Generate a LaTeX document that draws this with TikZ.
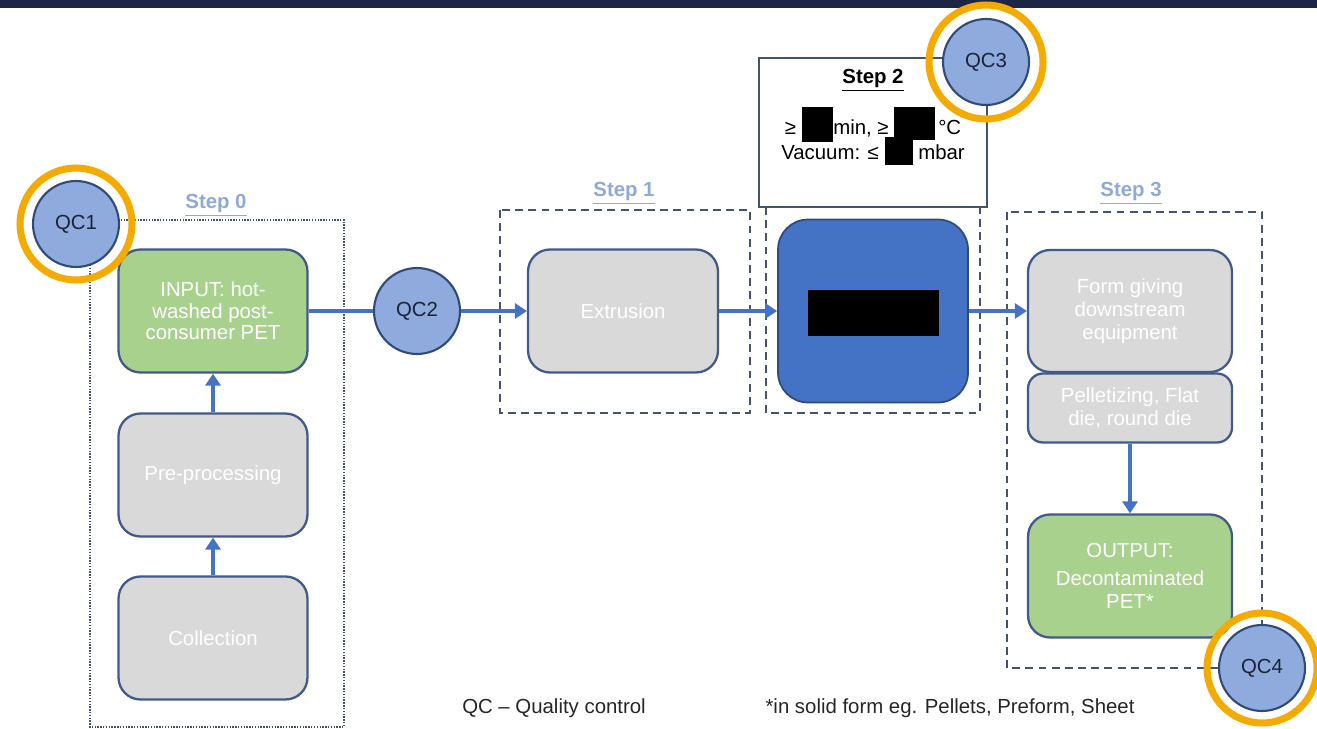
\documentclass[tikz,border=0pt]{standalone}
\usepackage{fontspec}
\setmainfont{Liberation Sans}
\usetikzlibrary{arrows.meta}

\definecolor{bandnavy}{HTML}{1D2547}
\definecolor{flowblue}{HTML}{4472C4}
\definecolor{qcfill}{HTML}{8FAADC}
\definecolor{qcedge}{HTML}{2F4B7C}
\definecolor{qctext}{HTML}{1A2336}
\definecolor{ringamber}{HTML}{F5AA00}
\definecolor{boxgrey}{HTML}{D9D9D9}
\definecolor{boxgreen}{HTML}{A9D18E}
\definecolor{boxedge}{HTML}{41598B}
\definecolor{frameedge}{HTML}{44546A}
\definecolor{steplabel}{HTML}{8EA9DB}

\newcommand{\blackout}[3]{\smash{\rule[#1]{#2}{#3}}}

\begin{document}
\begin{tikzpicture}[x=0.02cm, y=-0.02cm,
  >={Triangle[width=0.3cm,length=0.24cm]},
  font=\fontsize{11.6}{13}\selectfont,
  proc/.style={draw=boxedge, line width=1.3pt, rounded corners=0.44cm,
    fill=boxgrey, text=white, align=center, inner sep=2pt,
    minimum width=3.78cm, minimum height=2.46cm},
  feed/.style={proc, fill=boxgreen},
  qc/.style={circle, draw=qcedge, line width=1.2pt, fill=qcfill,
    text=qctext, minimum size=1.72cm, inner sep=0pt},
  ring/.style={draw=ringamber, line width=4pt},
  flow/.style={draw=flowblue, line width=2.5pt},
  stepframe/.style={draw=frameedge, line width=1.6pt,
    dash pattern=on 4.5pt off 3pt},
  steptitle/.style={text=steplabel, font=\fontsize{11.6}{13}\selectfont\bfseries},
  note/.style={text=black!85}]

  % page size and top band
  \useasboundingbox (0,0) rectangle (1317,729);
  \fill[bandnavy] (0,0) rectangle (1317,8);

  % Step frames
  \draw[draw=frameedge, line width=1.4pt, dash pattern=on 0.8pt off 0.8pt]
    (90,220) rectangle (344,727);
  \draw[stepframe] (500,210) rectangle (750,413);
  \draw[stepframe] (766,207) rectangle (980,413);
  \draw[stepframe] (1007,212) rectangle (1262,668);

  % Step titles
  \node[steptitle] (t0) at (216,205) {\underline{Step 0}};
  \node[steptitle] (t1) at (624,193) {\underline{Step 1}};
  \node[steptitle] (t3) at (1131,193) {\underline{Step 3}};

  % Step 2 conditions
  \draw[fill=white, draw=frameedge, line width=1.2pt] (759,58) rectangle (987,207);
  \node[font=\fontsize{11.6}{13}\selectfont\bfseries] (t2) at (873,80) {\underline{Step 2}};
  \node[align=center, font=\fontsize{11.6}{14.2}\selectfont] (cond) at (873,140)
    {≥ \blackout{-4pt}{18pt}{20pt}min, ≥ \blackout{-3pt}{23pt}{19pt}\hspace{2pt}°C\\
     Vacuum: ≤ \blackout{-3pt}{16pt}{16pt} mbar};

  % Step 0: feedstock chain
  \node[proc] (coll) at (213,638) {Collection};
  \node[proc] (prep) at (213,475) {Pre-processing};
  \node[feed, font=\fontsize{11.6}{12.2}\selectfont] (input) at (213,311)
    {INPUT: hot-\\washed post-\\consumer PET};

  % Step 1 and Step 2
  \node[proc, minimum width=3.8cm] (extr) at (623,311) {Extrusion};
  \node[draw=qcedge, line width=1pt, fill=flowblue, rounded corners=0.6cm,
    minimum width=3.8cm, minimum height=3.66cm] (core) at (873,311) {};
  \fill[black] (808,290) rectangle (939,336);

  % Step 3
  \node[proc, minimum width=4.08cm, minimum height=2.44cm] (form) at (1130,311)
    {Form giving\\downstream\\equipment};
  \node[proc, minimum width=4.08cm, minimum height=1.38cm, rounded corners=0.3cm]
    (pellet) at (1130,408) {Pelletizing, Flat\\die, round die};
  \node[feed, minimum width=4.08cm] (output) at (1130,576)
    {OUTPUT:\\[3pt]Decontaminated\\PET*};

  % Connectors
  \draw[flow, ->] (coll) -- (prep);
  \draw[flow, ->] (prep) -- (input);
  \node[qc] (qc2) at (417,311) {QC2};
  \draw[flow] (input) -- (qc2);
  \draw[flow, ->] (qc2) -- (extr);
  \draw[flow, ->] (extr) -- (core);
  \draw[flow, ->] (core) -- (form);
  \draw[flow, ->] (pellet) -- (output);

  % Quality control points
  \node[qc] (qc1) at (76,224) {QC1};
  \node[qc] (qc3) at (986,62) {QC3};
  \node[qc] (qc4) at (1262,668) {QC4};
  \draw[ring] (qc1.center) circle (56);
  \draw[ring] (qc3.center) circle (57);
  \draw[ring] (qc4.center) circle (55);

  % Legend
  \node[note] (leg1) at (554,708) {QC – Quality control};
  \node[note] (leg2) at (950,708) {*in solid form eg. Pellets, Preform, Sheet};

\end{tikzpicture}
\end{document}
